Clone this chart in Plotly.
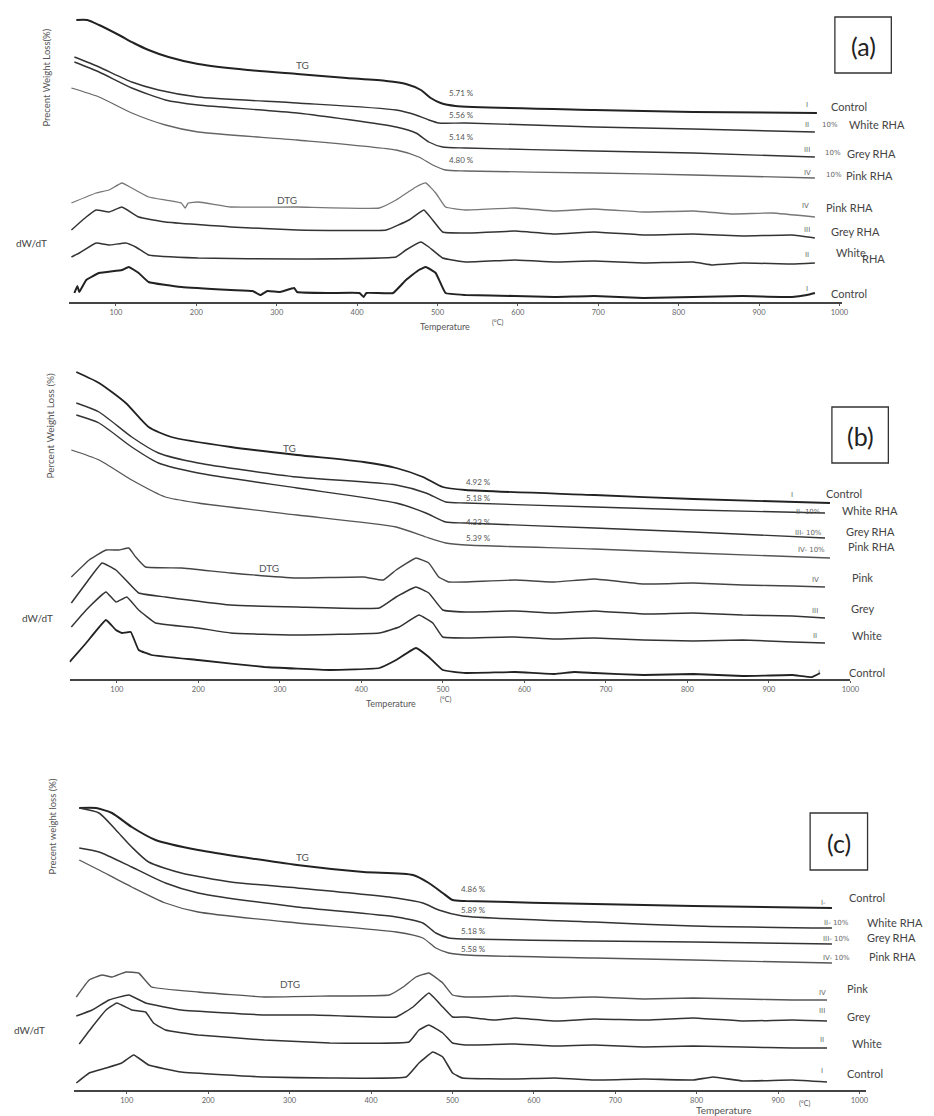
import plotly.graph_objects as go

W, H = 934, 1116
FONT = "Lato"

# ---------------- tick labels ----------------
TICK_VALUES = [100, 200, 300, 400, 500, 600, 700, 800, 900, 1000]
TICK_TEXT = ["100", "200", "300", "400", "500", "600", "700", "800", "900", "1000"]

# ---------------- panel (a) ----------------
a_tg_control_t = [50.7, 64.3, 79, 103.7, 122, 140.6, 165.3, 202.2, 263.8, 325.4, 387, 436.2, 460.8, 479.3, 491.6, 504, 522.4, 694.8, 818, 972]
a_tg_control_y = [282, 282, 277, 267, 259, 252, 245, 238, 232, 228, 224, 221, 218, 212, 204, 199, 196, 192, 190, 189]
a_tg_white_t = [48.3, 79, 119.7, 153, 202.2, 325.4, 448.5, 473.2, 489.2, 501.5, 534.7, 694.8, 818, 969.5]
a_tg_white_y = [245, 235, 220, 212, 205, 199, 192, 187, 182, 179, 179, 175, 173, 170]
a_tg_grey_t = [48.3, 79, 119.7, 161.6, 202.2, 325.4, 448.5, 473.2, 489.2, 506.4, 534.7, 694.8, 818, 969.5]
a_tg_grey_y = [240, 230, 214, 202, 197, 189, 175, 169, 160, 155, 154, 151, 149, 145]
a_tg_pink_t = [44.6, 79, 119.7, 161.6, 202.2, 325.4, 448.5, 476.8, 494, 510, 534.7, 694.8, 818, 969.5]
a_tg_pink_y = [214, 205, 189, 177, 170, 162, 152, 145, 137, 132, 131, 129, 127, 124]

a_dtg_pink_t = [44.6, 75.4, 91.4, 107.4, 119.7, 140.6, 181.3, 186.2, 189.9, 202.2, 242.9, 325.4, 427.6, 448.5, 473.2, 485.5, 497.8, 510, 534.7, 596.3, 645.6, 694.8, 756.4, 818, 867.2, 916.5, 969.5]
a_dtg_pink_y = [99, 109, 112, 119, 114, 105, 99, 94, 99, 100, 95, 95, 94, 102, 115, 119, 109, 95, 92, 94, 91, 93, 90, 91, 88, 89, 85]
a_dtg_grey_t = [44.6, 63, 75.4, 91.4, 107.4, 128.3, 161.6, 242.9, 325.4, 436.2, 464.5, 483, 494, 506.4, 534.7, 596.3, 645.6, 694.8, 756.4, 818, 879.6, 941.1, 969.5]
a_dtg_grey_y = [72, 85, 92, 90, 95, 85, 80, 75, 72, 72, 82, 92, 82, 70, 69, 71, 68, 70, 67, 68, 66, 67, 64]
a_dtg_white_t = [44.6, 54.4, 75.4, 91.4, 112.3, 124.6, 140.6, 202.2, 325.4, 448.5, 460.8, 479.3, 489.2, 506.4, 534.7, 596.3, 645.6, 694.8, 756.4, 818, 842.6, 879.6, 941.1, 969.5]
a_dtg_white_y = [45, 49, 59, 57, 59, 55, 47, 44, 43, 45, 52, 60, 55, 44, 40, 42, 40, 41, 39, 40, 37, 39, 38, 39]
a_dtg_control_t = [48.3, 52, 54.4, 63, 79, 107.4, 116, 128.3, 140.6, 181.3, 242.9, 270, 279.8, 288.4, 304.4, 321.7, 325.4, 366, 403, 408, 411.6, 444.8, 460.8, 476.8, 485.5, 497.8, 510, 534.7, 596.3, 645.6, 694.8, 756.4, 818, 879.6, 941.1, 959.6, 969.5]
a_dtg_control_y = [9, 16, 10, 22, 29, 32, 35, 29, 20, 15, 12, 11, 7, 11, 10, 14, 10, 9, 9, 5, 9, 9, 22, 32, 35, 29, 9, 7, 6, 5, 6, 4, 5, 6, 5, 7, 9]

# ---------------- panel (b) ----------------
b_tg_control_t = [50.2, 78.1, 110.9, 138.9, 166.8, 239.7, 321.1, 402.6, 442.6, 475.5, 499.8, 527.7, 685.9, 807.2, 974.9]
b_tg_control_y = [307, 296, 276, 252, 242, 232, 224, 217, 211, 202, 192, 189, 184, 180, 176]
b_tg_white_t = [50.2, 78.1, 118.2, 151, 199.6, 321.1, 442.6, 479.1, 503.4, 527.7, 685.9, 807.2, 968.8]
b_tg_white_y = [276, 267, 242, 226, 216, 202, 194, 186, 177, 176, 172, 169, 166]
b_tg_grey_t = [50.2, 78.1, 118.2, 151, 199.6, 321.1, 442.6, 479.1, 503.4, 527.7, 685.9, 807.2, 968.8]
b_tg_grey_y = [264, 256, 232, 216, 206, 191, 176, 166, 157, 156, 151, 147, 141]
b_tg_pink_t = [44.1, 78.1, 118.2, 159.5, 199.6, 321.1, 442.6, 479.1, 503.4, 527.7, 685.9, 807.2, 974.9]
b_tg_pink_y = [229, 219, 199, 182, 176, 164, 152, 142, 136, 134, 130, 126, 121]

b_dtg_pink_t = [44.1, 66, 86.6, 102.4, 114.6, 123.1, 135.2, 179, 239.7, 321.1, 402.6, 426.9, 442.6, 466.9, 482.7, 494.9, 507, 527.7, 588.5, 637, 685.9, 746.4, 807.2, 867.9, 928.7, 968.8]
b_dtg_pink_y = [102, 119, 129, 129, 131, 122, 112, 111, 106, 101, 102, 99, 109, 121, 116, 102, 97, 97, 99, 97, 100, 95, 96, 94, 93, 92]
b_dtg_grey_t = [44.1, 62.3, 81.8, 98.8, 110.9, 126.7, 159.5, 239.7, 321.1, 422, 442.6, 466.9, 482.7, 499.8, 527.7, 588.5, 637, 685.9, 746.4, 807.2, 867.9, 928.7, 968.8]
b_dtg_grey_y = [76, 96, 116, 109, 99, 86, 82, 74, 72, 71, 82, 92, 86, 69, 67, 68, 66, 68, 65, 66, 64, 63, 61]
b_dtg_white_t = [44.1, 62.3, 86.6, 98.8, 112.2, 126.7, 147.4, 199.6, 239.7, 321.1, 422, 446.3, 470.6, 487.6, 499.8, 527.7, 588.5, 637, 685.9, 746.4, 807.2, 867.9, 928.7, 968.8]
b_dtg_white_y = [52, 69, 87, 77, 82, 69, 56, 51, 46, 44, 46, 52, 64, 56, 42, 41, 42, 40, 41, 39, 38, 39, 37, 36]
b_dtg_control_t = [42, 62.3, 86.6, 98.8, 106.1, 117, 126.7, 142.5, 199.6, 281, 361.2, 422, 442.6, 466.9, 482.7, 499.8, 527.7, 588.5, 637, 661.4, 685.9, 746.4, 807.2, 867.9, 928.7, 953, 962.7]
b_dtg_control_y = [17, 36, 59, 49, 46, 47, 29, 24, 19, 12, 9, 11, 19, 31, 22, 9, 6, 7, 5, 7, 6, 4, 5, 3, 4, 2, 6]

# ---------------- panel (c) ----------------
c_tg_control_t = [41.6, 62.3, 81.8, 106.1, 135.3, 187.6, 309.2, 390.8, 451.6, 471, 488.1, 500.2, 516.1, 674.2, 795.9, 966.2]
c_tg_control_y = [282, 282, 277, 263, 250, 240, 225, 218, 215, 207, 197, 190, 189, 186, 184, 182]
c_tg_white_t = [41.6, 65.9, 86.6, 106.1, 126.8, 166.9, 227.7, 309.2, 430.9, 463.7, 483.2, 512.4, 674.2, 795.9, 966.2]
c_tg_white_y = [282, 277, 260, 243, 228, 217, 208, 202, 192, 187, 180, 174, 168, 164, 162]
c_tg_grey_t = [41.6, 65.9, 106.1, 147.4, 187.6, 309.2, 430.9, 463.7, 479.6, 495.4, 516.1, 674.2, 795.9, 966.2]
c_tg_grey_y = [242, 238, 223, 207, 197, 183, 173, 167, 157, 152, 151, 149, 148, 146]
c_tg_pink_t = [41.6, 65.9, 106.1, 147.4, 187.6, 309.2, 430.9, 463.7, 479.6, 495.4, 516.1, 674.2, 795.9, 966.2]
c_tg_pink_y = [230, 220, 203, 187, 178, 167, 158, 152, 142, 137, 135, 132, 130, 127]

c_dtg_pink_t = [38, 53.8, 69.6, 81.8, 98.8, 114.6, 130.4, 187.6, 269.1, 349.4, 422.4, 439.4, 455.2, 471, 488.1, 500.2, 516.1, 576.9, 625.5, 674.2, 735, 795.9, 856.7, 917.5, 960.1]
c_dtg_pink_y = [93, 110, 115, 113, 118, 117, 103, 98, 93, 94, 95, 103, 113, 117, 107, 95, 93, 94, 92, 93, 91, 92, 91, 90, 90]
c_dtg_grey_t = [38, 57.4, 78.1, 102.4, 123.1, 166.9, 269.1, 329.9, 430.9, 451.6, 471, 488.1, 500.2, 516.1, 552.6, 576.9, 625.5, 674.2, 735, 795.9, 856.7, 917.5, 960.1]
c_dtg_grey_y = [74, 80, 90, 95, 87, 80, 75, 75, 73, 83, 97, 83, 73, 73, 70, 72, 69, 71, 70, 72, 69, 70, 69]
c_dtg_white_t = [41.6, 57.4, 74.5, 87.8, 106.1, 123.1, 132.8, 147.4, 187.6, 269.1, 349.4, 446.7, 458.9, 471, 488.1, 500.2, 516.1, 576.9, 625.5, 674.2, 735, 795.9, 856.7, 917.5, 960.1]
c_dtg_white_y = [46, 63, 80, 87, 80, 78, 67, 60, 55, 50, 47, 48, 60, 65, 57, 47, 45, 46, 44, 45, 43, 44, 43, 42, 42]
c_dtg_control_t = [38, 53.8, 74.5, 93.9, 108.5, 126.8, 166.9, 269.1, 349.4, 443.1, 458.9, 475.9, 488.1, 500.2, 512.4, 576.9, 625.5, 674.2, 735, 795.9, 820.2, 856.7, 917.5, 960.1]
c_dtg_control_y = [7, 17, 22, 27, 35, 25, 18, 13, 12, 13, 27, 38, 33, 17, 12, 11, 12, 10, 11, 10, 13, 9, 10, 8]

# ---------------- text content ----------------
PCT_A = ["5.71 %", "5.56 %", "5.14 %", "4.80 %"]
PCT_B = ["4.92 %", "5.18 %", "4.33 %", "5.39 %"]
PCT_C = ["4.86 %", "5.89 %", "5.18 %", "5.58 %"]

fig = go.Figure()

PANELS = {
    "a": dict(xd=(70, 850), xr=(42, 1003), yb=302, yt=0),
    "b": dict(xd=(70.3, 858.7), xr=(42, 1000), yb=679, yt=340),
    "c": dict(xd=(74.6, 874.4), xr=(35, 1008), yb=1090, yt=740),
}
AX = {"a": ("x", "y"), "b": ("x2", "y2"), "c": ("x3", "y3")}


def curve(panel, t, y, color="#333", width=1.4, smooth=0.6):
    xa, ya = AX[panel]
    fig.add_trace(go.Scatter(x=t, y=y, mode="lines", xaxis=xa, yaxis=ya,
                             line=dict(color=color, width=width, shape="spline", smoothing=smooth),
                             showlegend=False, hoverinfo="skip"))


# panel (a)
curve("a", a_tg_control_t, a_tg_control_y, "#222", 2.0)
curve("a", a_tg_white_t, a_tg_white_y, "#333", 1.4)
curve("a", a_tg_grey_t, a_tg_grey_y, "#333", 1.4)
curve("a", a_tg_pink_t, a_tg_pink_y, "#666", 1.3)
curve("a", a_dtg_pink_t, a_dtg_pink_y, "#777", 1.3, 0.3)
curve("a", a_dtg_grey_t, a_dtg_grey_y, "#333", 1.5, 0.3)
curve("a", a_dtg_white_t, a_dtg_white_y, "#333", 1.5, 0.3)
curve("a", a_dtg_control_t, a_dtg_control_y, "#222", 2.0, 0.3)
# panel (b)
curve("b", b_tg_control_t, b_tg_control_y, "#222", 1.8)
curve("b", b_tg_white_t, b_tg_white_y, "#333", 1.4)
curve("b", b_tg_grey_t, b_tg_grey_y, "#333", 1.4)
curve("b", b_tg_pink_t, b_tg_pink_y, "#555", 1.3)
curve("b", b_dtg_pink_t, b_dtg_pink_y, "#444", 1.4, 0.3)
curve("b", b_dtg_grey_t, b_dtg_grey_y, "#333", 1.5, 0.3)
curve("b", b_dtg_white_t, b_dtg_white_y, "#333", 1.5, 0.3)
curve("b", b_dtg_control_t, b_dtg_control_y, "#222", 1.8, 0.3)
# panel (c)
curve("c", c_tg_control_t, c_tg_control_y, "#222", 2.0)
curve("c", c_tg_white_t, c_tg_white_y, "#333", 1.5)
curve("c", c_tg_grey_t, c_tg_grey_y, "#333", 1.5)
curve("c", c_tg_pink_t, c_tg_pink_y, "#555", 1.3)
curve("c", c_dtg_pink_t, c_dtg_pink_y, "#555", 1.4, 0.3)
curve("c", c_dtg_grey_t, c_dtg_grey_y, "#333", 1.5, 0.3)
curve("c", c_dtg_white_t, c_dtg_white_y, "#333", 1.5, 0.3)
curve("c", c_dtg_control_t, c_dtg_control_y, "#333", 1.6, 0.3)

layout_axes = {}
for i, key in enumerate(["a", "b", "c"]):
    p = PANELS[key]
    sfx = "" if i == 0 else str(i + 1)
    layout_axes["xaxis" + sfx] = dict(
        domain=[p["xd"][0] / W, p["xd"][1] / W], range=list(p["xr"]),
        anchor="y" + sfx, showline=True, linecolor="#444", linewidth=1.6,
        ticks="outside", ticklen=2, tickcolor="#555", tickwidth=1,
        tickvals=TICK_VALUES, ticktext=TICK_TEXT,
        tickfont=dict(family=FONT, size=7.5, color="#666"),
        showgrid=False, zeroline=False, fixedrange=True)
    layout_axes["yaxis" + sfx] = dict(
        domain=[1 - p["yb"] / H, 1 - p["yt"] / H], range=[0, p["yb"] - p["yt"]],
        anchor="x" + sfx, visible=False, showgrid=False, zeroline=False, fixedrange=True)

fig.update_layout(width=W, height=H, margin=dict(l=0, r=0, t=0, b=0),
                  paper_bgcolor="white", plot_bgcolor="rgba(0,0,0,0)",
                  showlegend=False, **layout_axes)


def note(text, x, y, size=10, color="#444", angle=0, anchor="center", family=FONT):
    fig.add_annotation(text=text, x=x / W, y=1 - y / H, xref="paper", yref="paper",
                       showarrow=False, textangle=angle, xanchor=anchor, yanchor="middle",
                       font=dict(family=family, size=size, color=color))


# panel boxes
for label, (x0, y0, x1, y1) in {"(a)": (843, 17, 900, 73), "(b)": (840, 407, 897, 463),
                                "(c)": (818, 813, 876, 870)}.items():
    fig.add_shape(type="rect", xref="paper", yref="paper", x0=x0 / W, x1=x1 / W,
                  y0=1 - y1 / H, y1=1 - y0 / H, line=dict(color="#333", width=1.3))
    note(label, (x0 + x1) / 2, (y0 + y1) / 2 + 1, size=25, color="#222")

# y titles and dW/dT
note("Precent Weight Loss(%)", 47, 78, 9.5, "#555", -90)
note("Percent Weight Loss (%)", 50, 426, 10, "#555", -90)
note("Precent weight loss (%)", 53, 826, 9.5, "#555", -90)
note("dW/dT", 32, 243, 10, "#444")
note("dW/dT", 38, 618, 10, "#444")
note("dW/dT", 30, 1030, 10, "#444")

# TG / DTG labels
note("TG", 305, 65, 10, "#555")
note("DTG", 290, 200, 10, "#555")
note("TG", 292, 448, 10, "#555")
note("DTG", 272, 568, 10, "#555")
note("TG", 305, 857, 10, "#555")
note("DTG", 293, 984, 10, "#555")

# percentages
for txt, yy in zip(PCT_A, [93, 115, 137, 160]):
    note(txt, 466, yy, 8, "#555")
for txt, yy in zip(PCT_B, [482, 498, 522, 538]):
    note(txt, 483, yy, 8, "#555")
for txt, yy in zip(PCT_C, [889, 910, 931, 949]):
    note(txt, 478, yy, 8, "#555")

# temperature titles
note("Temperature", 449, 327, 9, "#555")
note("(°C)", 502, 322, 7, "#555")
note("Temperature", 395, 703, 9, "#555")
note("(°C)", 450, 699, 7, "#555")
note("Temperature", 731, 1110, 10, "#555")
note("(°C)", 812, 1103, 7, "#555")

NUM = "DejaVu Sans"
# right-hand labels (a)
for t, x, y in [("I", 815, 105), ("II", 815, 125), ("III", 815, 150), ("IV", 815, 173),
                ("IV", 813, 206), ("III", 815, 230), ("II", 815, 255), ("I", 815, 289)]:
    note(t, x, y, 7, "#666", family=NUM)
for x, y in [(838, 125), (841, 153), (842, 175)]:
    note("10%", x, y, 7, "#666", family=NUM)
for t, x, y in [("Control", 837, 107), ("White RHA", 855, 124), ("Grey RHA", 853, 153),
                ("Pink RHA", 852, 175), ("Pink RHA", 832, 207), ("Grey RHA", 837, 232),
                ("White", 842, 252), ("RHA", 868, 258), ("Control", 837, 293)]:
    note(t, x, y, 11, "#444", anchor="left")

# right-hand labels (b)
for t, x, y in [("I", 800, 495), ("II- 10%", 816, 512), ("III- 10%", 816, 533), ("IV- 10%", 819, 550),
                ("IV", 823, 580), ("III", 823, 611), ("II", 823, 636), ("I", 827, 673)]:
    note(t, x, y, 7, "#666", family=NUM)
for t, x, y in [("Control", 832, 493), ("White RHA", 848, 511), ("Grey RHA", 852, 532),
                ("Pink RHA", 854, 547), ("Pink", 858, 577), ("Grey", 857, 608),
                ("White", 858, 635), ("Control", 855, 673)]:
    note(t, x, y, 11, "#444", anchor="left")

# right-hand labels (c)
for t, x, y in [("I-", 832, 903), ("II- 10%", 845, 923), ("III- 10%", 845, 939), ("IV- 10%", 845, 958),
                ("IV", 830, 993), ("III", 830, 1011), ("II", 830, 1040), ("I", 830, 1071)]:
    note(t, x, y, 7, "#666", family=NUM)
for t, x, y in [("Control", 855, 897), ("White RHA", 873, 922), ("Grey RHA", 873, 937),
                ("Pink RHA", 875, 956), ("Pink", 853, 988), ("Grey", 853, 1016),
                ("White", 858, 1043), ("Control", 853, 1073)]:
    note(t, x, y, 11, "#444", anchor="left")

fig.write_html("out.html", config={"displayModeBar": False},
               post_script="document.body.style.margin='0px';document.body.style.overflow='hidden';")
